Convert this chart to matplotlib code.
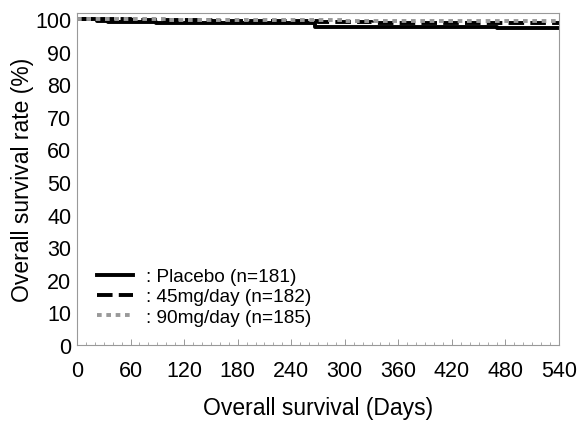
import matplotlib
matplotlib.use('Agg')
import matplotlib.pyplot as plt
from matplotlib.ticker import MultipleLocator

plt.rcParams['font.family'] = ['Liberation Sans', 'DejaVu Sans']

# Kaplan-Meier step data (days, survival %)
placebo_days = [0, 22, 35, 88, 180, 267, 470, 540]
placebo_surv = [100, 99.4, 99.1, 98.8, 98.8, 97.4, 97.2, 97.2]
mg45_days = [0, 60, 150, 270, 330, 540]
mg45_surv = [100, 99.6, 99.3, 99.0, 98.7, 98.7]
mg90_days = [0, 100, 200, 300, 540]
mg90_surv = [100, 99.8, 99.6, 99.3, 99.3]

labels = [': Placebo (n=181)', ': 45mg/day (n=182)', ': 90mg/day (n=185)']
xticks = list(range(0, 541, 60))
yticks = list(range(0, 101, 10))

fig = plt.figure(figsize=(5.79, 4.27), dpi=100)
ax = fig.add_axes([0.133, 0.19, 0.8325, 0.777])

ax.step(placebo_days, placebo_surv, where='post', color='black', lw=2.8, label=labels[0])
ax.step(mg45_days, mg45_surv, where='post', color='black', lw=2.8,
        dashes=(4, 1.6), label=labels[1])
ax.step(mg90_days, mg90_surv, where='post', color='#999999', lw=2.8,
        dashes=(1.2, 1.2), label=labels[2])

ax.set_xlim(0, 540)
ax.set_ylim(0, 101.8)
ax.set_xticks(xticks)
ax.set_yticks(yticks)
ax.xaxis.set_minor_locator(MultipleLocator(10))
ax.tick_params(axis='x', which='major', direction='in', length=4, width=0.6,
               color='#888888', labelsize=15.5, pad=11)
ax.tick_params(axis='x', which='minor', direction='in', length=2, width=0.5, color='#888888')
ax.tick_params(axis='y', which='major', direction='in', length=0,
               labelsize=15.5, pad=4)
for s in ax.spines.values():
    s.set_color('#999999')
    s.set_linewidth(0.8)

ax.set_xlabel('Overall survival (Days)', fontsize=16.5, labelpad=11)
ax.set_ylabel('Overall survival rate (%)', fontsize=16.5, labelpad=1)

ax.legend(loc='lower left', bbox_to_anchor=(0.025, 0.035), frameon=False,
          fontsize=13.7, handlelength=1.9, handletextpad=0.7, labelspacing=0.15,
          borderaxespad=0)

fig.savefig('out.png', dpi=100)
